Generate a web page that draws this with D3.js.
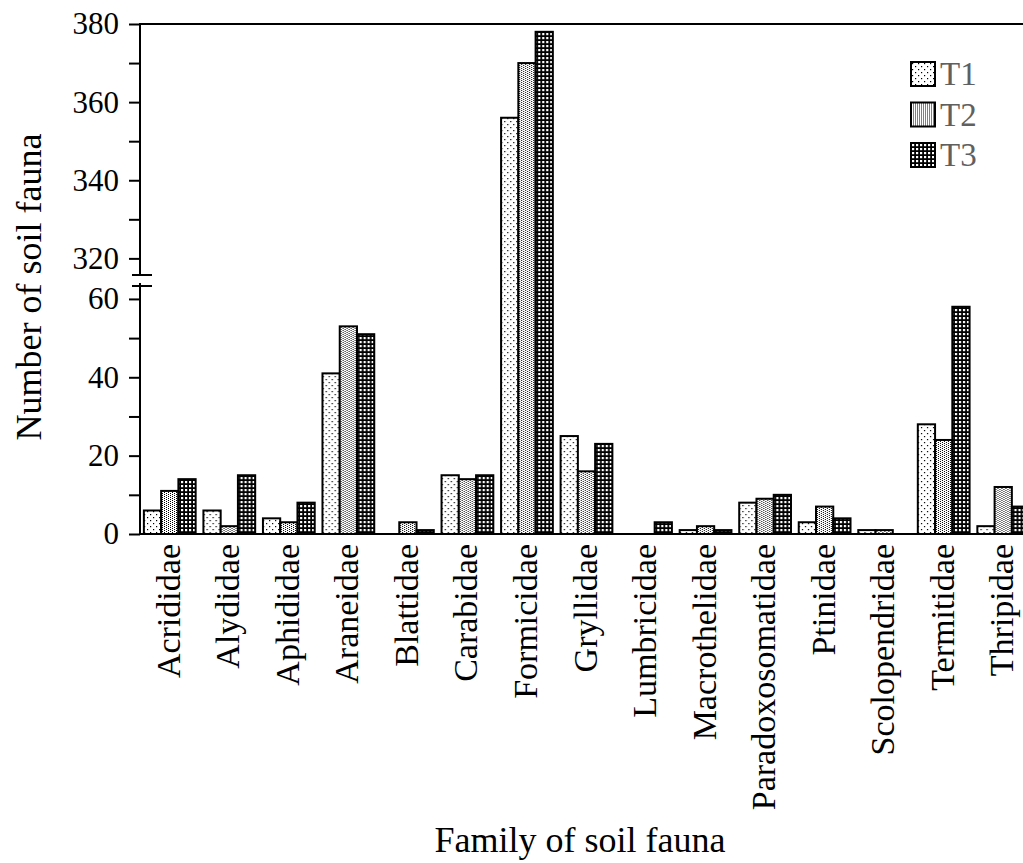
<!DOCTYPE html>
<html>
<head>
<meta charset="utf-8">
<script src="https://cdn.jsdelivr.net/npm/d3@7"></script>
<style>
  html, body { margin: 0; padding: 0; background: #fff; }
  svg { display: block; }
  text { font-family: "Liberation Serif", "Times New Roman", serif; }
</style>
</head>
<body>
<div id="chart"></div>
<script>
// Soil fauna counts per family under three treatments
const families = ["Acrididae", "Alydidae", "Aphididae", "Araneidae", "Blattidae",
  "Carabidae", "Formicidae", "Gryllidae", "Lumbricidae", "Macrothelidae",
  "Paradoxosomatidae", "Ptinidae", "Scolopendridae", "Termitidae", "Thripidae"];
const seriesNames = ["T1", "T2", "T3"];
const t1 = [6, 6, 4, 41, 0, 15, 356, 25, 0, 1, 8, 3, 1, 28, 2];
const t2 = [11, 2, 3, 53, 3, 14, 370, 16, 0, 2, 9, 7, 1, 24, 12];
const t3 = [14, 15, 8, 51, 1, 15, 378, 23, 3, 1, 10, 4, 0, 58, 7];
const lowerTicks = [0, 20, 40, 60];
const lowerMinor = [10, 30, 50];
const upperTicks = [320, 340, 360, 380];
const upperMinor = [330, 350, 370];

const series = [t1, t2, t3];
const W = 1023, H = 863;
const plotLeft = 140, plotTop = 24, base = 534;
const lowerTop = 286, upperBottom = 274;
const lowerMax = 63.3, upperMin = 316, upperMax = 380;

const svg = d3.select("#chart").append("svg")
  .attr("width", W).attr("height", H);

// Fill patterns for the three treatments
const defs = svg.append("defs");
function dotPattern(id, size, bg, fg, cells) {
  const p = defs.append("pattern").attr("id", id)
    .attr("patternUnits", "userSpaceOnUse").attr("width", size).attr("height", size);
  p.append("rect").attr("width", size).attr("height", size).attr("fill", bg);
  cells.forEach(([cx, cy, s]) => p.append("rect")
    .attr("x", cx).attr("y", cy).attr("width", s).attr("height", s).attr("fill", fg));
}
// sparse dots
dotPattern("pat-T1", 6, "#fff", "#000", [[1, 1, 1.2], [4, 4, 1.2]]);
// dense staggered dots
dotPattern("pat-T2", 4, "#fff", "#000", [[0, 0, 1], [2, 1, 1], [0, 2, 1], [2, 3, 1]]);
// dark checker with white holes
dotPattern("pat-T3", 4, "#000", "#fff", [[1, 1, 2.2]]);

// Scales: broken value axis with a lower and an upper segment
const x0 = d3.scaleBand().domain(families).range([plotLeft, 1033]).paddingInner(0).paddingOuter(0);
const x1 = d3.scaleBand().domain(seriesNames)
  .range([0, x0.bandwidth()]).paddingOuter(0.225).paddingInner(0);
const yLow = d3.scaleLinear().domain([0, lowerMax]).range([base, lowerTop]);
const yUp = d3.scaleLinear().domain([upperMin, upperMax]).range([upperBottom, plotTop]);
const yPos = v => v <= lowerMax ? yLow(v) : yUp(v);

// Bars
const groups = svg.append("g").selectAll("g").data(families).join("g")
  .attr("transform", d => `translate(${x0(d)},0)`);
groups.selectAll("rect")
  .data((d, i) => seriesNames.map((s, k) => ({ s, v: series[k][i] })).filter(e => e.v > 0))
  .join("rect")
  .attr("x", d => x1(d.s))
  .attr("width", x1.bandwidth())
  .attr("y", d => yPos(d.v))
  .attr("height", d => base - yPos(d.v))
  .attr("fill", d => `url(#pat-${d.s})`)
  .attr("stroke", "#000").attr("stroke-width", 2);

// Frame lines
const ax = svg.append("g").attr("stroke", "#000").attr("stroke-width", 2).attr("fill", "none");
ax.append("line").attr("x1", plotLeft).attr("x2", W).attr("y1", plotTop).attr("y2", plotTop);
ax.append("line").attr("x1", plotLeft - 1).attr("x2", W).attr("y1", base).attr("y2", base);

// Value axis segments drawn by d3.axisLeft
function axisPart(scale, major, minor) {
  const g = svg.append("g").attr("transform", `translate(${plotLeft},0)`);
  g.call(d3.axisLeft(scale).tickValues(major).tickSize(11).tickPadding(10).tickFormat(d3.format("d")));
  g.call(s => s.select(".domain").remove());
  g.selectAll(".tick line").attr("stroke-width", 2);
  g.selectAll(".tick text").attr("font-size", 31).attr("fill", "#000")
    .attr("font-family", "Liberation Serif, serif");
  const m = svg.append("g").attr("transform", `translate(${plotLeft},0)`);
  m.call(d3.axisLeft(scale).tickValues(minor).tickSize(11).tickFormat(""));
  m.call(s => s.select(".domain").remove());
  m.selectAll(".tick line").attr("stroke-width", 2);
}
axisPart(yLow, lowerTicks, lowerMinor);
axisPart(yUp, upperTicks, upperMinor);

// Axis spine with break marks
ax.append("line").attr("x1", plotLeft).attr("x2", plotLeft).attr("y1", plotTop - 1).attr("y2", upperBottom + 2);
ax.append("line").attr("x1", plotLeft).attr("x2", plotLeft).attr("y1", lowerTop - 3).attr("y2", base + 1);
ax.append("line").attr("x1", plotLeft - 8).attr("x2", plotLeft + 12).attr("y1", upperBottom + 1).attr("y2", upperBottom + 1);
ax.append("line").attr("x1", plotLeft - 8).attr("x2", plotLeft + 12).attr("y1", lowerTop).attr("y2", lowerTop);

// Category labels
svg.append("g").selectAll("text").data(families).join("text")
  .attr("transform", d => `translate(${x0(d) + x0.bandwidth() / 2 + 10},${base + 10}) rotate(-90)`)
  .attr("text-anchor", "end")
  .attr("font-size", 34)
  .text(d => d);

// Axis titles
svg.append("text").attr("x", 580).attr("y", 852).attr("text-anchor", "middle")
  .attr("font-size", 36).text("Family of soil fauna");
svg.append("text").attr("transform", "translate(41,287) rotate(-90)")
  .attr("text-anchor", "middle").attr("font-size", 36).text("Number of soil fauna");

// Legend
const lg = svg.append("g").attr("transform", "translate(911,62)");
seriesNames.forEach((s, k) => {
  const row = lg.append("g").attr("transform", `translate(0,${k * 40.5})`);
  row.append("rect").attr("width", 24).attr("height", 24)
    .attr("fill", `url(#pat-${s})`).attr("stroke", "#000").attr("stroke-width", 2);
  row.append("text").attr("x", 29).attr("y", 23).attr("font-size", 33)
    .attr("fill", "#606060").text(s);
});
</script>
</body>
</html>
